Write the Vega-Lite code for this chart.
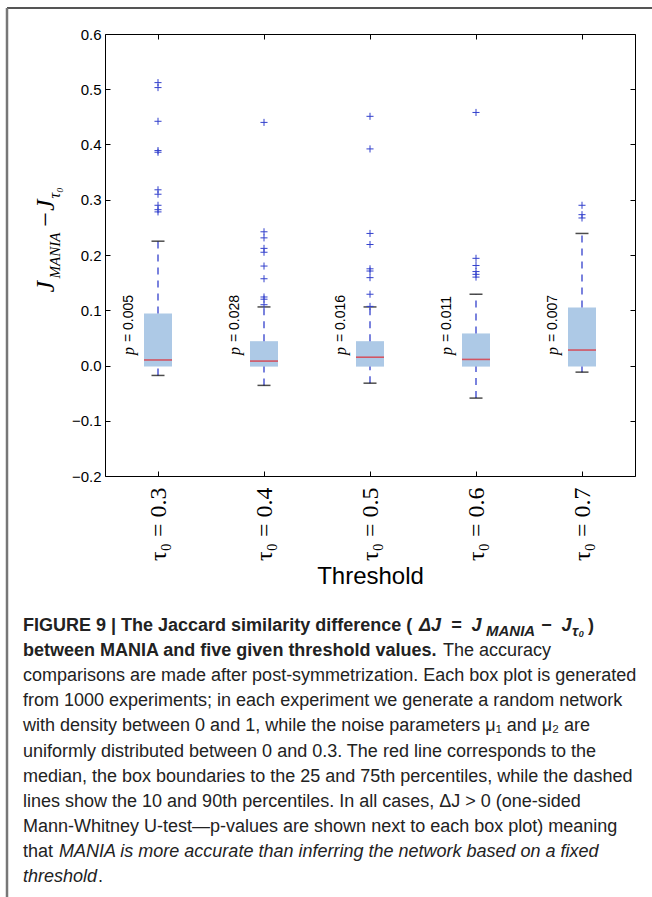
{
  "$schema": "https://vega.github.io/schema/vega-lite/v6.json",
  "width": 530,
  "height": 442,
  "autosize": {"type": "none"},
  "padding": {"left": 105, "top": 34, "right": 17, "bottom": 421},
  "background": "white",
  "config": {"view": {"stroke": "black", "strokeWidth": 1}, "axis": {"grid": false}},
  "datasets": {
    "boxes": [
      {"tau": "τ₀ = 0.3", "lo": -0.018, "q1": -0.002, "med": 0.010, "q3": 0.094, "hi": 0.225, "p": "0.005"},
      {"tau": "τ₀ = 0.4", "lo": -0.036, "q1": -0.002, "med": 0.008, "q3": 0.044, "hi": 0.106, "p": "0.028"},
      {"tau": "τ₀ = 0.5", "lo": -0.032, "q1": -0.002, "med": 0.015, "q3": 0.044, "hi": 0.106, "p": "0.016"},
      {"tau": "τ₀ = 0.6", "lo": -0.059, "q1": -0.002, "med": 0.011, "q3": 0.058, "hi": 0.129, "p": "0.011"},
      {"tau": "τ₀ = 0.7", "lo": -0.012, "q1": -0.002, "med": 0.028, "q3": 0.105, "hi": 0.239, "p": "0.007"}
    ],
    "outliers": [
      {"tau": "τ₀ = 0.3", "v": 0.512}, {"tau": "τ₀ = 0.3", "v": 0.503}, {"tau": "τ₀ = 0.3", "v": 0.442},
      {"tau": "τ₀ = 0.3", "v": 0.389}, {"tau": "τ₀ = 0.3", "v": 0.386}, {"tau": "τ₀ = 0.3", "v": 0.318},
      {"tau": "τ₀ = 0.3", "v": 0.310}, {"tau": "τ₀ = 0.3", "v": 0.290}, {"tau": "τ₀ = 0.3", "v": 0.282},
      {"tau": "τ₀ = 0.3", "v": 0.278},
      {"tau": "τ₀ = 0.4", "v": 0.440}, {"tau": "τ₀ = 0.4", "v": 0.242}, {"tau": "τ₀ = 0.4", "v": 0.231},
      {"tau": "τ₀ = 0.4", "v": 0.212}, {"tau": "τ₀ = 0.4", "v": 0.205}, {"tau": "τ₀ = 0.4", "v": 0.180},
      {"tau": "τ₀ = 0.4", "v": 0.157}, {"tau": "τ₀ = 0.4", "v": 0.124}, {"tau": "τ₀ = 0.4", "v": 0.120},
      {"tau": "τ₀ = 0.4", "v": 0.110},
      {"tau": "τ₀ = 0.5", "v": 0.451}, {"tau": "τ₀ = 0.5", "v": 0.392}, {"tau": "τ₀ = 0.5", "v": 0.239},
      {"tau": "τ₀ = 0.5", "v": 0.219}, {"tau": "τ₀ = 0.5", "v": 0.175}, {"tau": "τ₀ = 0.5", "v": 0.171},
      {"tau": "τ₀ = 0.5", "v": 0.159}, {"tau": "τ₀ = 0.5", "v": 0.129}, {"tau": "τ₀ = 0.5", "v": 0.107},
      {"tau": "τ₀ = 0.6", "v": 0.458}, {"tau": "τ₀ = 0.6", "v": 0.194}, {"tau": "τ₀ = 0.6", "v": 0.181},
      {"tau": "τ₀ = 0.6", "v": 0.170}, {"tau": "τ₀ = 0.6", "v": 0.165}, {"tau": "τ₀ = 0.6", "v": 0.160},
      {"tau": "τ₀ = 0.7", "v": 0.290}, {"tau": "τ₀ = 0.7", "v": 0.273}, {"tau": "τ₀ = 0.7", "v": 0.267}
    ]
  },
  "layer": [
    {
      "layer": [
        {
          "data": {"name": "boxes"},
          "mark": {"type": "bar", "size": 28, "color": "#adc9e6"},
          "encoding": {
            "x": {"field": "tau", "type": "ordinal", "sort": null, "scale": {"type": "point", "padding": 0.5},
              "axis": {"orient": "bottom", "title": "Threshold", "titleFont": "Liberation Sans", "titleFontSize": 24, "titleFontWeight": "normal", "titleColor": "black", "titlePadding": 4,
                "labelAngle": 270, "labelFont": "Liberation Serif", "labelFontSize": 24, "labelColor": "black", "labelPadding": 16, "labelAlign": "right", "labelBaseline": "middle",
                "tickSize": -5, "tickColor": "black", "domain": false}},
            "y": {"field": "q1", "type": "quantitative", "scale": {"domain": [-0.2, 0.6], "nice": false, "zero": false},
              "axis": {"orient": "left", "values": [-0.2, -0.1, 0, 0.1, 0.2, 0.3, 0.4, 0.5, 0.6], "format": ".1f",
                "labelFont": "Liberation Sans", "labelFontSize": 15, "labelColor": "black", "labelPadding": 9,
                "tickSize": -5, "tickColor": "black", "domain": false,
                "title": "J", "titleFont": "Liberation Serif", "titleFontStyle": "italic", "titleFontSize": 26, "titleFontWeight": "normal",
                "titleAngle": 270, "titleX": -52, "titleY": 258, "titleAlign": "left", "titleBaseline": "alphabetic", "titleColor": "black"}},
            "y2": {"field": "q3"}
          }
        },
        {
          "data": {"name": "boxes"},
          "mark": {"type": "rule", "color": "#3340cc", "strokeWidth": 1.3, "strokeDash": [7, 6]},
          "encoding": {
            "x": {"field": "tau", "type": "ordinal", "sort": null, "axis": {"orient": "top", "labels": false, "tickSize": -5, "tickColor": "black", "domain": false, "title": null}},
            "y": {"field": "lo", "type": "quantitative",
              "axis": {"orient": "right", "values": [-0.2, -0.1, 0, 0.1, 0.2, 0.3, 0.4, 0.5, 0.6], "labels": false, "tickSize": -5, "tickColor": "black", "domain": false, "title": null}},
            "y2": {"field": "q1"}
          }
        },
        {
          "data": {"name": "boxes"},
          "mark": {"type": "rule", "color": "#3340cc", "strokeWidth": 1.3, "strokeDash": [7, 6]},
          "encoding": {
            "x": {"field": "tau", "type": "ordinal", "sort": null, "axis": null},
            "y": {"field": "q3", "type": "quantitative",
              "axis": {"orient": "left", "labels": false, "ticks": false, "domain": false,
                "title": "MANIA", "titleFont": "Liberation Serif", "titleFontStyle": "italic", "titleFontSize": 15, "titleFontWeight": "normal",
                "titleAngle": 270, "titleX": -46, "titleY": 244, "titleAlign": "left", "titleBaseline": "alphabetic", "titleColor": "black"}},
            "y2": {"field": "hi"}
          }
        },
        {
          "data": {"name": "boxes"},
          "mark": {"type": "tick", "color": "#e3242b", "size": 28, "thickness": 1.6},
          "encoding": {
            "x": {"field": "tau", "type": "ordinal", "sort": null, "axis": null},
            "y": {"field": "med", "type": "quantitative",
              "axis": {"orient": "left", "labels": false, "ticks": false, "domain": false,
                "title": "−J", "titleFont": "Liberation Serif", "titleFontStyle": "italic", "titleFontSize": 26, "titleFontWeight": "normal",
                "titleAngle": 270, "titleX": -52, "titleY": 194, "titleAlign": "left", "titleBaseline": "alphabetic", "titleColor": "black"}}
          }
        },
        {
          "data": {"name": "boxes"},
          "mark": {"type": "tick", "color": "black", "size": 13, "thickness": 1.5},
          "encoding": {
            "x": {"field": "tau", "type": "ordinal", "sort": null, "axis": null},
            "y": {"field": "lo", "type": "quantitative",
              "axis": {"orient": "left", "labels": false, "ticks": false, "domain": false,
                "title": "τ₀", "titleFont": "Liberation Serif", "titleFontStyle": "italic", "titleFontSize": 16, "titleFontWeight": "normal",
                "titleAngle": 270, "titleX": -46, "titleY": 164, "titleAlign": "left", "titleBaseline": "alphabetic", "titleColor": "black"}}
          }
        },
        {
          "data": {"name": "boxes"},
          "mark": {"type": "tick", "color": "black", "size": 13, "thickness": 1.5},
          "encoding": {
            "x": {"field": "tau", "type": "ordinal", "sort": null, "axis": null},
            "y": {"field": "hi", "type": "quantitative", "axis": null}
          }
        },
        {
          "data": {"name": "outliers"},
          "mark": {"type": "point", "shape": "M-1,0L1,0M0,-1L0,1", "size": 50, "filled": false, "stroke": "#3340cc", "strokeWidth": 1, "opacity": 1},
          "encoding": {
            "x": {"field": "tau", "type": "ordinal", "sort": null, "axis": null},
            "y": {"field": "v", "type": "quantitative", "axis": null}
          }
        },
        {
          "mark": {"type": "rule", "color": "#6ccfe0", "strokeWidth": 1.5, "strokeDash": [8, 5]},
          "encoding": {"y": {"datum": 0, "type": "quantitative", "axis": null}}
        },
        {
          "data": {"name": "boxes"},
          "mark": {"type": "text", "angle": 270, "align": "left", "baseline": "middle", "dy": -29, "dx": 0, "font": "Liberation Serif", "fontStyle": "italic", "fontSize": 16, "color": "black"},
          "encoding": {
            "x": {"field": "tau", "type": "ordinal", "sort": null, "axis": null},
            "y": {"datum": 0.019, "type": "quantitative", "axis": null},
            "text": {"value": "p"}
          }
        },
        {
          "data": {"name": "boxes"},
          "mark": {"type": "text", "angle": 270, "align": "left", "baseline": "middle", "dy": -29, "dx": 13, "font": "Liberation Sans", "fontSize": 14, "color": "black"},
          "encoding": {
            "x": {"field": "tau", "type": "ordinal", "sort": null, "axis": null},
            "y": {"datum": 0.019, "type": "quantitative", "axis": null},
            "text": {"value": "="}
          }
        },
        {
          "data": {"name": "boxes"},
          "mark": {"type": "text", "angle": 270, "align": "left", "baseline": "middle", "dy": -29, "dx": 25, "font": "Liberation Sans", "fontSize": 14, "color": "black"},
          "encoding": {
            "x": {"field": "tau", "type": "ordinal", "sort": null, "axis": null},
            "y": {"datum": 0.019, "type": "quantitative", "axis": null},
            "text": {"field": "p"}
          }
        }
      ],
      "resolve": {"axis": {"x": "independent", "y": "independent"}}
    },
    {
      "encoding": {
        "x": {"datum": 0, "type": "quantitative", "scale": {"domain": [0, 1], "range": [-82, 548], "zero": false, "nice": false}, "axis": null},
        "y": {"field": "line", "type": "quantitative", "scale": {"domain": [1, 11], "range": [592, 843], "zero": false, "nice": false}, "axis": null}
      },
      "layer": [
        {
          "data": {"values": [{"line": 1, "text": "FIGURE 9 | The Jaccard similarity difference ("}, {"line": 2, "text": "between MANIA and five given threshold values."}]},
          "mark": {"type": "text", "align": "left", "baseline": "middle", "font": "Liberation Sans", "fontWeight": "bold", "fontSize": 18, "color": "#222"},
          "encoding": {"text": {"field": "text"}}
        },
        {
          "data": {"values": [{"line": 1, "text": "ΔJ\u00a0\u00a0=\u00a0\u00a0J"}]},
          "mark": {"type": "text", "align": "left", "baseline": "middle", "dx": 396, "font": "Liberation Sans", "fontWeight": "bold", "fontStyle": "italic", "fontSize": 18, "color": "#222"},
          "encoding": {"text": {"field": "text"}}
        },
        {
          "data": {"values": [{"line": 1, "text": "MANIA"}]},
          "mark": {"type": "text", "align": "left", "baseline": "middle", "dx": 463, "dy": 5, "font": "Liberation Sans", "fontWeight": "bold", "fontStyle": "italic", "fontSize": 15, "color": "#222"},
          "encoding": {"text": {"field": "text"}}
        },
        {
          "data": {"values": [{"line": 1, "text": "−\u00a0\u00a0J"}]},
          "mark": {"type": "text", "align": "left", "baseline": "middle", "dx": 518, "font": "Liberation Sans", "fontWeight": "bold", "fontStyle": "italic", "fontSize": 18, "color": "#222"},
          "encoding": {"text": {"field": "text"}}
        },
        {
          "data": {"values": [{"line": 1, "text": "τ₀"}]},
          "mark": {"type": "text", "align": "left", "baseline": "middle", "dx": 549, "dy": 5, "font": "Liberation Sans", "fontWeight": "bold", "fontStyle": "italic", "fontSize": 15, "color": "#222"},
          "encoding": {"text": {"field": "text"}}
        },
        {
          "data": {"values": [{"line": 1, "text": ")"}]},
          "mark": {"type": "text", "align": "left", "baseline": "middle", "dx": 565, "font": "Liberation Sans", "fontWeight": "bold", "fontSize": 18, "color": "#222"},
          "encoding": {"text": {"field": "text"}}
        },
        {
          "data": {"values": [{"line": 2, "text": "The accuracy"}]},
          "mark": {"type": "text", "align": "left", "baseline": "middle", "dx": 420, "font": "Liberation Sans", "fontSize": 18, "color": "#222"},
          "encoding": {"text": {"field": "text"}}
        },
        {
          "data": {"values": [
            {"line": 3, "text": "comparisons are made after post-symmetrization. Each box plot is generated"},
            {"line": 4, "text": "from 1000 experiments; in each experiment we generate a random network"},
            {"line": 5, "text": "with density between 0 and 1, while the noise parameters μ₁ and μ₂ are"},
            {"line": 6, "text": "uniformly distributed between 0 and 0.3. The red line corresponds to the"},
            {"line": 7, "text": "median, the box boundaries to the 25 and 75th percentiles, while the dashed"},
            {"line": 8, "text": "lines show the 10 and 90th percentiles. In all cases, ΔJ > 0 (one-sided"},
            {"line": 9, "text": "Mann-Whitney U-test—p-values are shown next to each box plot) meaning"},
            {"line": 10, "text": "that"}
          ]},
          "mark": {"type": "text", "align": "left", "baseline": "middle", "font": "Liberation Sans", "fontSize": 18, "color": "#222"},
          "encoding": {"text": {"field": "text"}}
        },
        {
          "data": {"values": [{"line": 10, "text": "MANIA is more accurate than inferring the network based on a fixed"}]},
          "mark": {"type": "text", "align": "left", "baseline": "middle", "dx": 36, "font": "Liberation Sans", "fontStyle": "italic", "fontSize": 18, "color": "#222"},
          "encoding": {"text": {"field": "text"}}
        },
        {
          "data": {"values": [{"line": 11, "text": "threshold"}]},
          "mark": {"type": "text", "align": "left", "baseline": "middle", "font": "Liberation Sans", "fontStyle": "italic", "fontSize": 18, "color": "#222"},
          "encoding": {"text": {"field": "text"}}
        },
        {
          "data": {"values": [{"line": 11, "text": "."}]},
          "mark": {"type": "text", "align": "left", "baseline": "middle", "dx": 75, "font": "Liberation Sans", "fontSize": 18, "color": "#222"},
          "encoding": {"text": {"field": "text"}}
        }
      ]
    },
    {
      "data": {"values": [{"k": 1}]},
      "encoding": {
        "x": {"datum": 0, "type": "quantitative", "scale": {"domain": [0, 1], "range": [-98, 560], "zero": false, "nice": false}, "axis": null},
        "y": {"datum": 0, "type": "quantitative", "scale": {"domain": [0, 1], "range": [-26, 870], "zero": false, "nice": false}, "axis": null}
      },
      "layer": [
        {"mark": {"type": "rule", "color": "#555", "strokeWidth": 2}, "encoding": {"x2": {"datum": 1}}},
        {"mark": {"type": "rule", "color": "#777", "strokeWidth": 2.5}, "encoding": {"y2": {"datum": 1}}}
      ]
    }
  ],
  "resolve": {"scale": {"x": "independent", "y": "independent"}}
}
